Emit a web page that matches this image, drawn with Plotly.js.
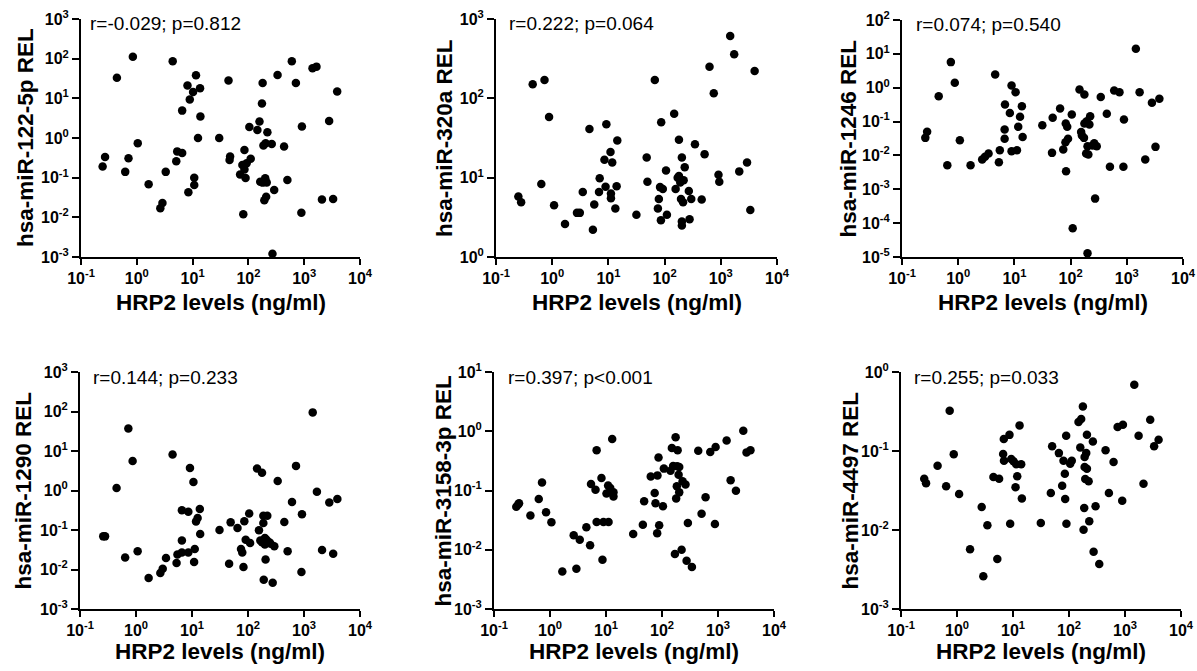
<!DOCTYPE html>
<html><head><meta charset="utf-8">
<script src="https://cdn.plot.ly/plotly-3.0.1.min.js"></script>
<style>html,body{margin:0;padding:0;background:#fff}#chart{width:1197px;height:671px}</style>
</head><body><div id="chart"></div>
<script>
// HRP2 levels (ng/ml) and relative expression per miRNA panel
const x1=[0.244,0.27,0.44,0.62,0.71,0.85,1.04,1.63,2.64,2.88,3.3,4.4,5.1,5.3,6.5,6.5,8.1,8.4,8.9,10.2,10.7,10.7,11.5,12.5,13.6,13.8,30,44,46,47,71,78,81,85,85,89,93,104,110,145,158,163,175,180,180,186,193,200,200,204,208,213,219,262,270,290,333,436,500,600,710,890,910,1410,1660,2080,2800,3300,3900];
const y1=[0.19,0.33,33,0.14,0.31,112,0.74,0.068,0.017,0.023,0.14,86,0.26,0.46,4.9,0.42,21,0.043,9.3,14.5,0.10,0.065,38,1.0,18,3.5,1.0,28,0.28,0.34,0.12,0.21,0.012,0.50,0.16,0.098,0.23,1.9,0.30,1.6,2.6,0.079,7.4,24.5,0.075,0.65,0.027,0.087,0.096,0.74,0.033,0.076,1.4,0.71,0.0012,0.049,39,0.61,0.087,86,24.5,0.013,1.95,57,63,0.028,2.7,0.029,14.8];

const x2=[0.25,0.28,0.45,0.73,0.64,0.88,1.08,1.69,2.76,3.1,3.5,4.6,5.3,5.6,6.8,7.0,8.5,8.9,9.2,10.9,11.1,11.1,11.7,13.3,14.0,14.4,31.5,48,49.5,67,76,79,83,87,86,93,106,110,148,157,171,180,180,190,196,203,203,203,213,218,228,270,278,298,347,457,515,630,750,910,940,1470,1730,2130,2930,3350,4000];
const y2=[5.8,4.9,150,170,8.3,58,4.5,2.6,3.6,3.6,6.6,41,2.2,4.6,6.6,9.8,16.8,7.7,47,21,6.3,5.5,15.5,4.1,7.8,29.4,3.4,18,8.9,170,4.1,5.4,7.6,50,2.9,7.2,12.3,3.4,64,7.2,10,30,10.5,8.7,5.4,18,2.8,2.5,4.9,9.3,13.5,6.8,3.0,5.4,26.4,5.3,19.8,250,116,10.9,8.9,610,360,12,15.5,3.9,221];

const x3=[0.26,0.28,0.45,0.64,0.74,0.87,1.07,1.66,2.67,3.0,3.47,4.55,5.3,5.5,6.8,6.7,6.7,8.3,8.9,8.9,10.5,11.1,11.7,12.6,13.6,14,31.4,46.7,48,65,74,81,82,83,87,90,105,109,144,154,159,173,176,176,189,194,200,200,207,216,223,245,263,273,292,344,441,501,596,741,890,870,1450,1690,2130,2800,3240,3800];
const y3=[0.033,0.05,0.56,0.0051,5.7,1.4,0.028,0.0051,0.0076,0.0091,0.0114,2.46,0.0063,0.0143,0.32,0.058,0.031,0.18,1.17,0.0133,0.74,0.0143,0.07,0.138,0.285,0.035,0.078,0.0119,0.129,0.244,0.0149,0.0245,0.088,0.0034,0.07,0.031,0.162,7.1e-5,0.89,0.049,0.039,0.033,0.63,0.088,0.0114,0.103,0.0187,1.3e-5,0.0107,0.082,0.144,0.0196,0.023,0.00053,0.0187,0.53,0.17,0.0046,0.83,0.74,0.115,0.0046,14.2,0.74,0.0076,0.36,0.0179,0.47];

const x4=[0.26,0.28,0.45,0.64,0.73,0.87,1.07,1.68,2.72,3.0,3.43,4.5,5.3,5.5,6.6,6.6,6.6,8.6,8.6,9.2,10.6,10.9,11.2,11.8,12.6,13.8,14,31,46,49,65,75,79,83,86,91,105,109,145,157,166,178,178,191,188,188,200,200,206,214,221,240,254,276,295,339,445,510,611,720,900,920,1430,1700,2100,2830,3320,3940];
const y4=[0.069,0.069,1.16,0.020,37,5.6,0.029,0.0061,0.0081,0.0105,0.0195,8.1,0.0146,0.024,0.315,0.054,0.027,0.29,0.027,3.7,1.64,0.0155,0.033,0.165,0.20,0.34,0.079,0.10,0.014,0.156,0.112,0.033,0.027,0.0116,0.166,0.057,0.26,0.047,3.6,0.098,0.054,2.8,0.049,0.0055,0.23,0.15,0.063,0.043,0.0178,0.057,0.23,0.049,0.045,0.0046,0.039,1.74,0.159,0.029,0.51,4.2,0.0086,0.25,95,0.93,0.031,0.50,0.025,0.61];

const x5=[0.25,0.27,0.28,0.447,0.63,0.72,0.85,1.06,1.66,2.65,2.96,3.4,4.46,5.2,5.4,6.5,6.8,6.8,8.3,8.65,9.0,10.2,10.9,11.1,11.9,12.9,13.6,13.6,30.6,45.5,48,63,74,76.5,82,83,86.7,89,104,108,142,150,158,170,175,179,184,186,190,198,203,203,224,233,263,275,290,342,444,509,600,727,881,906,1426,1680,2090,2830,3230,3800];
const y5=[0.053,0.058,0.061,0.038,0.072,0.137,0.043,0.029,0.0043,0.0175,0.0048,0.0148,0.024,0.0119,0.129,0.103,0.48,0.0295,0.163,0.0068,0.0295,0.089,0.121,0.0295,0.11,0.74,0.093,0.079,0.0185,0.0265,0.066,0.173,0.091,0.061,0.019,0.18,0.36,0.0258,0.054,0.234,0.216,0.52,0.26,0.0085,0.79,0.073,0.118,0.256,0.48,0.185,0.25,0.093,0.010,0.143,0.126,0.0065,0.0283,0.0051,0.47,0.0406,0.077,0.447,0.0272,0.54,0.70,0.149,0.099,1.02,0.44,0.48];

const x6=[0.26,0.28,0.45,0.64,0.74,0.875,1.09,1.71,2.76,2.95,3.49,4.47,5.25,5.65,6.67,6.85,6.9,8.65,8.9,9.3,10.2,11.1,11.4,11.9,13.1,14,14.4,31.4,47.4,50,66,75.5,79.8,84.3,85.5,89,90,105,112,148,159,165,177,182,187,190,190,195,203,209,209,224,230,267,275,298,347,450,516,625,738,892,918,1466,1750,2140,2820,3310,3980];
const y6=[0.0446,0.039,0.065,0.0357,0.324,0.091,0.0286,0.0057,0.0195,0.0026,0.0115,0.047,0.0043,0.0446,0.0917,0.142,0.0755,0.16,0.012,0.079,0.074,0.0347,0.068,0.048,0.211,0.068,0.025,0.0123,0.0294,0.115,0.094,0.0364,0.0755,0.0516,0.0247,0.156,0.012,0.069,0.0755,0.233,0.111,0.254,0.367,0.0101,0.019,0.084,0.0627,0.0442,0.094,0.161,0.0598,0.0413,0.0129,0.132,0.0053,0.020,0.0037,0.102,0.0294,0.0726,0.201,0.0235,0.215,0.69,0.156,0.0386,0.249,0.115,0.139];

const yTitles=['hsa-miR-122-5p REL','hsa-miR-320a REL','hsa-miR-1246 REL','hsa-miR-1290 REL','hsa-miR-3158-3p REL','hsa-miR-4497 REL'];
const stats=['r=-0.029; p=0.812','r=0.222; p=0.064','r=0.074; p=0.540','r=0.144; p=0.233','r=0.397; p<0.001','r=0.255; p=0.033'];
const xTitle='HRP2 levels (ng/ml)';
const xExps=[-1,0,1,2,3,4];
const yExps=[[-3,-2,-1,0,1,2,3],[0,1,2,3],[-5,-4,-3,-2,-1,0,1,2],[-3,-2,-1,0,1,2,3],[-3,-2,-1,0,1],[-3,-2,-1,0]];

const X=[x1,x2,x3,x4,x5,x6], Y=[y1,y2,y3,y4,y5,y6];
const W=1197, H=671;
// plot boxes and label offsets in pixels (layout only)
const boxes=[
  {l:81,r:360,t:19,b:257,yt:56,st:7,xt:45},
  {l:496,r:777,t:19,b:257,yt:52,st:11,xt:45},
  {l:902,r:1183,t:20,b:257,yt:54,st:12,xt:45},
  {l:80,r:360,t:372,b:609,yt:57,st:11,xt:42},
  {l:494,r:774,t:372,b:609,yt:51,st:12,xt:42},
  {l:901,r:1181,t:372,b:609,yt:51,st:11,xt:42}
];
const FONT='Liberation Sans, Arial, sans-serif';
const esc=s=>s.replace(/</g,'&lt;');
const sup=e=>'10<sup>'+e+'</sup>';

const data=[], layout={
  width:W,height:H,margin:{l:0,r:0,t:0,b:0},
  paper_bgcolor:'#fff',plot_bgcolor:'#fff',showlegend:false,
  font:{family:FONT,color:'#000'},annotations:[]
};
for(let i=0;i<6;i++){
  const n=i+1, b=boxes[i], sfx=(n>1?n:'');
  data.push({x:X[i],y:Y[i],type:'scatter',mode:'markers',xaxis:'x'+sfx,yaxis:'y'+sfx,
    marker:{size:8.5,color:'#000',line:{width:0}},cliponaxis:false,hoverinfo:'x+y'});
  const ye=yExps[i];
  const common={type:'log',showline:true,linewidth:2,linecolor:'#000',ticks:'outside',tickwidth:2,tickcolor:'#000',
    showgrid:false,zeroline:false,tickmode:'array',automargin:false,
    tickfont:{family:FONT,size:16,weight:'bold',color:'#000'},fixedrange:true};
  layout['xaxis'+sfx]=Object.assign({},common,{
    domain:[b.l/W,b.r/W],anchor:'y'+sfx,range:[xExps[0],xExps[xExps.length-1]],ticklen:6,
    tickvals:xExps.map(e=>Math.pow(10,e)),ticktext:xExps.map(sup)
  });
  layout['yaxis'+sfx]=Object.assign({},common,{
    domain:[1-b.b/H,1-b.t/H],anchor:'x'+sfx,range:[ye[0],ye[ye.length-1]],ticklen:7,
    tickvals:ye.map(e=>Math.pow(10,e)),ticktext:ye.map(sup)
  });
  // y-axis title
  layout.annotations.push({xref:'paper',yref:'paper',x:(b.l-b.yt)/W,y:1-((b.t+b.b)/2)/H,xanchor:'center',yanchor:'middle',
    textangle:-90,text:yTitles[i],showarrow:false,font:{family:FONT,size:22.5,weight:'bold',color:'#000'}});
  // x-axis title
  layout.annotations.push({xref:'paper',yref:'paper',x:((b.l+b.r)/2)/W,y:1-(b.b+b.xt)/H,xanchor:'center',yanchor:'middle',
    text:xTitle,showarrow:false,font:{family:FONT,size:22.5,weight:'bold',color:'#000'}});
  // correlation stats
  layout.annotations.push({xref:'paper',yref:'paper',x:(b.l+b.st)/W,y:1-(b.t+5)/H,xanchor:'left',yanchor:'middle',
    text:esc(stats[i]),showarrow:false,font:{family:FONT,size:19,color:'#000'}});
}
Plotly.newPlot('chart',data,layout,{displayModeBar:false});
</script></body></html>
